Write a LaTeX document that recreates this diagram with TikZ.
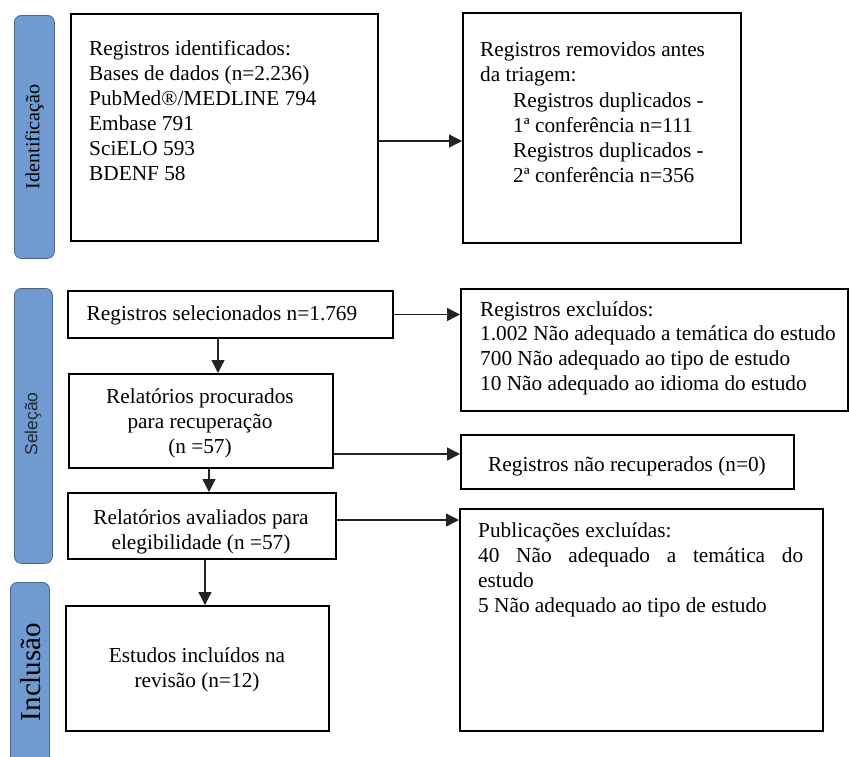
\documentclass[tikz,border=0pt]{standalone}
\usepackage{fontspec}
\setmainfont{Liberation Serif}
\newfontfamily\selfont{Liberation Sans}
\usetikzlibrary{arrows.meta}
\definecolor{barblue}{RGB}{112,155,208}
\definecolor{barline}{RGB}{75,100,135}
\definecolor{arrgray}{RGB}{35,35,35}
\definecolor{seltxt}{RGB}{30,40,55}
\begin{document}
\begin{tikzpicture}[x=1pt,y=-1pt,
  box/.style={draw=black, line width=2pt, anchor=north west, inner sep=0pt},
  bar/.style={fill=barblue, draw=barline, line width=0.8pt, rounded corners=7pt, anchor=north west, inner sep=0pt},
  txt/.style={inner sep=0pt, font=\fontsize{21.3}{25}\selectfont},
  arr/.style={draw=arrgray, line width=1.3pt, -{Triangle[length=13pt,width=13pt]}}]
\path[use as bounding box, clip] (0,0) rectangle (849,756);
\fill[white] (0,0) rectangle (849,756);

% side bars
\node[bar, minimum width=40pt, minimum height=243pt] (bar1) at (14,15) {};
\node[rotate=90, inner sep=0pt, font=\fontsize{20}{20}\selectfont] (lab1) at (bar1.center) {Identificação};
\node[bar, minimum width=38pt, minimum height=275pt] (bar2) at (14,288) {};
\node[rotate=90, inner sep=0pt, text=seltxt, font=\selfont\fontsize{17.5}{17.5}\selectfont] (lab2) at (33,424) {Seleção};
\node[bar, minimum width=39pt, minimum height=220pt] (bar3) at (10,582) {};
\node[rotate=90, inner sep=0pt, font=\fontsize{29}{29}\selectfont] (lab3) at (31,672) {Inclusão};

% boxes
\node[box, minimum width=307pt, minimum height=227pt] (A) at (70,13) {};
\node[box, minimum width=278pt, minimum height=230pt] (B) at (462,12) {};
\node[box, minimum width=325pt, minimum height=47pt] (C) at (67,290) {};
\node[box, minimum width=387pt, minimum height=122pt] (D) at (460,288) {};
\node[box, minimum width=264pt, minimum height=94pt] (E) at (68,373) {};
\node[box, minimum width=333pt, minimum height=54pt] (F) at (460,434) {};
\node[box, minimum width=268pt, minimum height=66pt] (G) at (67,492) {};
\node[box, minimum width=363pt, minimum height=222pt] (H) at (459,508) {};
\node[box, minimum width=263pt, minimum height=125pt] (I) at (65,605) {};

% texts
\node[txt, anchor=north west, align=left] (tA) at (89,40.3) {Registros identificados:\\Bases de dados (n=2.236)\\PubMed®/MEDLINE 794\\Embase 791\\SciELO 593\\BDENF 58};
\node[txt, anchor=north west, align=left] (tB1) at (480,41.3) {Registros removidos antes\\da triagem:};
\node[txt, anchor=north west, align=left] (tB2) at (513,92.3) {Registros duplicados -\\1ª conferência n=111\\Registros duplicados -\\2ª conferência n=356};
\node[txt, anchor=base] (tC) at (222,320) {Registros selecionados n=1.769};
\node[txt, anchor=north west, align=left, font=\fontsize{21.3}{24.6}\selectfont] (tD) at (480,301.3) {Registros excluídos:\\1.002 Não adequado a temática do estudo\\700 Não adequado ao tipo de estudo\\10 Não adequado ao idioma do estudo};
\node[txt, anchor=north, align=center] (tE) at (200,388.3) {Relatórios procurados\\para recuperação\\(n =57)};
\node[txt, anchor=base] (tF) at (627,471) {Registros não recuperados (n=0)};
\node[txt, anchor=north, align=center] (tG) at (201,509.3) {Relatórios avaliados para\\elegibilidade (n =57)};
\node[txt, anchor=north west, align=left] (tH) at (478,522.3) {Publicações excluídas:\\\hbox to 325pt{40\hfill Não\hfill adequado\hfill a\hfill temática\hfill do}\\estudo\\5 Não adequado ao tipo de estudo};
\node[txt, anchor=north, align=center] (tI) at (197,647.3) {Estudos incluídos na\\revisão (n=12)};

% arrows
\draw[arr] ([yshift=-13.5pt]A.east) -- ([yshift=-13.5pt]A.east -| B.west);
\draw[arr] (C.east) -- (C.east -| D.west);
\draw[arr] ([xshift=-12.5pt]C.south) -- ([xshift=-12.5pt]C.south |- E.north);
\draw[arr] ([yshift=-33pt]E.east) -- ([yshift=-33pt]E.east -| F.west);
\draw[arr] ([xshift=8pt]E.south) -- ([xshift=8pt]E.south |- G.north);
\draw[arr] ([yshift=6pt]G.east) -- ([yshift=6pt]G.east -| H.west);
\draw[arr] ([xshift=3pt]G.south) -- ([xshift=3pt]G.south |- I.north);
\end{tikzpicture}
\end{document}
